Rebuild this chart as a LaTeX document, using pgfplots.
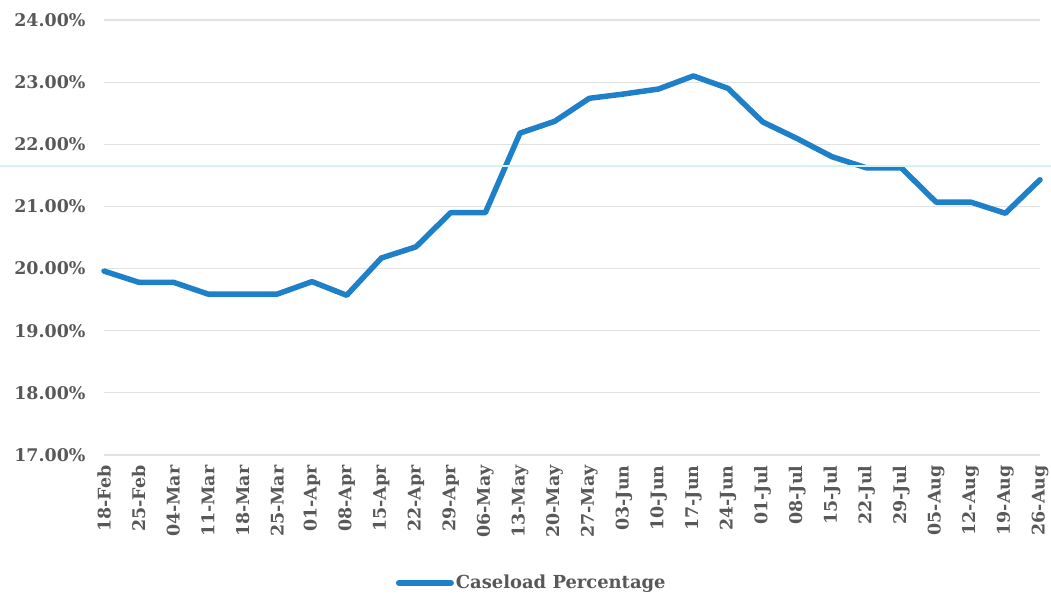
\documentclass[border=0pt]{standalone}
\usepackage{fontspec}
\setmainfont{DejaVu Serif}
\usepackage{pgfplots}
\pgfplotsset{compat=1.18}

\definecolor{lineblue}{RGB}{30,128,200}
\definecolor{labelgray}{RGB}{88,88,88}
\definecolor{gridgray}{RGB}{226,226,226}
\definecolor{scanline}{RGB}{210,242,244}

\begin{document}
\begin{tikzpicture}[x=1bp,y=1bp]
\useasboundingbox (0,0) rectangle (1051,-596);
\begin{axis}[
  at={(104bp,-455bp)}, anchor=south west,
  scale only axis, width=936bp, height=435bp,
  xmin=0, xmax=27, ymin=17, ymax=24,
  xtick={0,...,27},
  xticklabels={18-Feb,25-Feb,04-Mar,11-Mar,18-Mar,25-Mar,01-Apr,08-Apr,15-Apr,22-Apr,29-Apr,06-May,13-May,20-May,27-May,03-Jun,10-Jun,17-Jun,24-Jun,01-Jul,08-Jul,15-Jul,22-Jul,29-Jul,05-Aug,12-Aug,19-Aug,26-Aug},
  ytick={17,18,19,20,21,22,23,24},
  yticklabels={17.00\%,18.00\%,19.00\%,20.00\%,21.00\%,22.00\%,23.00\%,24.00\%},
  ymajorgrids,
  major grid style={gridgray, line width=1.2bp},
  axis line style={draw=none},
  major tick length=0pt,
  tick label style={font=\fontsize{17.5}{18}\selectfont\bfseries, text=labelgray},
  yticklabel style={anchor=east, xshift=-15bp},
  xticklabel style={rotate=90, anchor=east, xshift=-7bp},
  clip=false,
  legend style={at={(0.457,-0.294)}, anchor=center, draw=none, fill=none,
    font=\fontsize{18}{18}\selectfont\bfseries, text=labelgray,
    /tikz/every even column/.append style={column sep=0pt}},
  legend image code/.code={\draw[line width=6bp, lineblue, line cap=round] (0,0) -- (52bp,0);},
]
\addplot[lineblue, line width=5.5bp, line join=round, line cap=round] coordinates {
  (0,19.96) (1,19.78) (2,19.78) (3,19.59) (4,19.59) (5,19.59) (6,19.79)
  (7,19.57) (8,20.17) (9,20.35) (10,20.90) (11,20.90) (12,22.18) (13,22.37)
  (14,22.74) (15,22.81) (16,22.89) (17,23.10) (18,22.90) (19,22.36) (20,22.09)
  (21,21.80) (22,21.62) (23,21.62) (24,21.07) (25,21.07) (26,20.89) (27,21.43)
};
\addlegendentry{Caseload Percentage}
\end{axis}
% faint cyan streak across the sheet
\draw[scanline, line width=1.2bp] (0,-166) -- (1051,-166);
\end{tikzpicture}
\end{document}
